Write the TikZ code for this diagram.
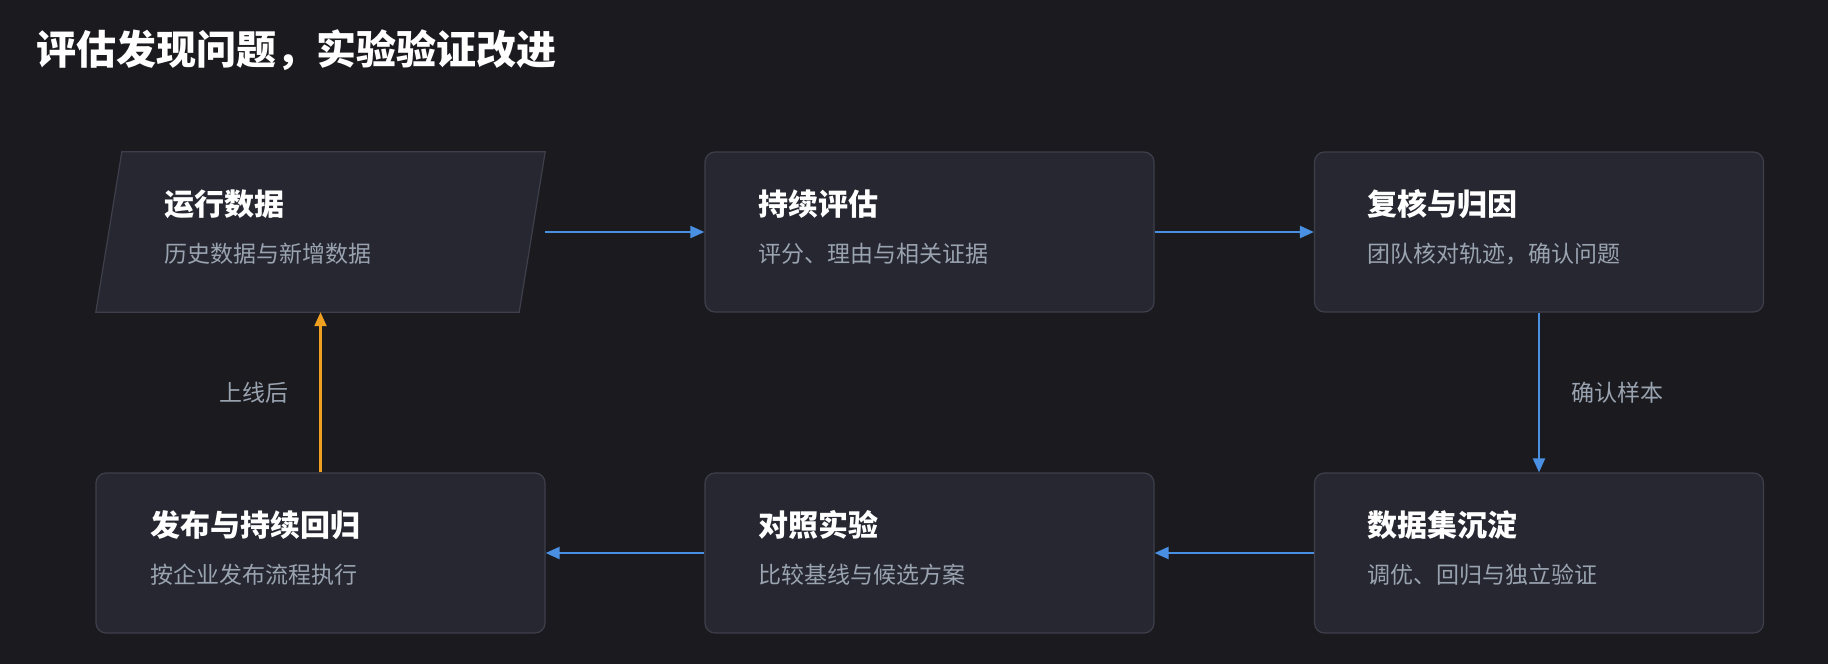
\documentclass[tikz,border=0pt]{standalone}
\usepackage{fontspec}
\setmainfont{Noto Sans CJK SC}
\usetikzlibrary{arrows.meta,positioning}
\definecolor{bgcol}{HTML}{1A1A1F}
\definecolor{boxfill}{HTML}{262731}
\definecolor{boxline}{HTML}{3E3F4A}
\definecolor{flowblue}{HTML}{4A90E2}
\definecolor{floworange}{HTML}{F0A020}
\definecolor{subtext}{HTML}{9AA3B0}
\tikzset{
  stage/.style={draw=boxline, line width=1.2pt, fill=boxfill, rounded corners=10pt,
    minimum width=449pt, minimum height=160pt, inner sep=0pt},
  slot/.style={minimum width=449pt, minimum height=160pt, inner sep=0pt},
  slant/.style={draw=boxline, line width=1.2pt, fill=boxfill},
  head/.style={anchor=west, text=white, font=\bfseries\fontsize{30}{30}\selectfont},
  sub/.style={anchor=west, text=subtext, font=\fontsize{23}{23}\selectfont},
  note/.style={text=subtext, font=\fontsize{23}{23}\selectfont},
  flow/.style={draw=flowblue, line width=2.2pt, -{Triangle[length=14pt,width=12pt]}},
  back/.style={draw=floworange, line width=2.2pt, -{Triangle[length=14pt,width=12pt]}}
}
\begin{document}
\begin{tikzpicture}[x=1pt,y=-1pt]
\fill[bgcol] (0,0) rectangle (1828,664);
\useasboundingbox (0,0) rectangle (1828,664);
\node[anchor=west, text=white, font=\bfseries\fontsize{40}{40}\selectfont] (title) at (33,50) {评估发现问题，实验验证改进};
% boxes
\node[slot] (run) at (320.5,232) {};
\draw[slant] ([xshift=26pt]run.north west) -- (run.north east)
  -- ([xshift=-26pt]run.south east) -- (run.south west) -- cycle;
\node[stage] (eval) at (929.5,232) {};
\node[stage] (review) at (1539,232) {};
\node[stage] (release) at (320.5,553) {};
\node[stage] (ab) at (929.5,553) {};
\node[stage] (dataset) at (1539,553) {};
% texts
\node[head] (runH) at (161,204) {运行数据};
\node[sub] (runS) at (161,254) {历史数据与新增数据};
\node[head] (evalH) at (755,204) {持续评估};
\node[sub] (evalS) at (755,254) {评分、理由与相关证据};
\node[head] (reviewH) at (1364,204) {复核与归因};
\node[sub] (reviewS) at (1364,254) {团队核对轨迹，确认问题};
\node[head] (releaseH) at (147,525) {发布与持续回归};
\node[sub] (releaseS) at (147,575) {按企业发布流程执行};
\node[head] (abH) at (755,525) {对照实验};
\node[sub] (abS) at (755,575) {比较基线与候选方案};
\node[head] (datasetH) at (1364,525) {数据集沉淀};
\node[sub] (datasetS) at (1364,575) {调优、回归与独立验证};
% connectors
\draw[flow] (run.east) -- (eval.west);
\draw[flow] (eval.east) -- (review.west);
\draw[flow] (review.south) -- node[note, right=28pt] {确认样本} (dataset.north);
\draw[flow] (dataset.west) -- (ab.east);
\draw[flow] (ab.west) -- (release.east);
\draw[back] (release.north) -- node[note, left=28pt] {上线后} (run.south);
\end{tikzpicture}
\end{document}
